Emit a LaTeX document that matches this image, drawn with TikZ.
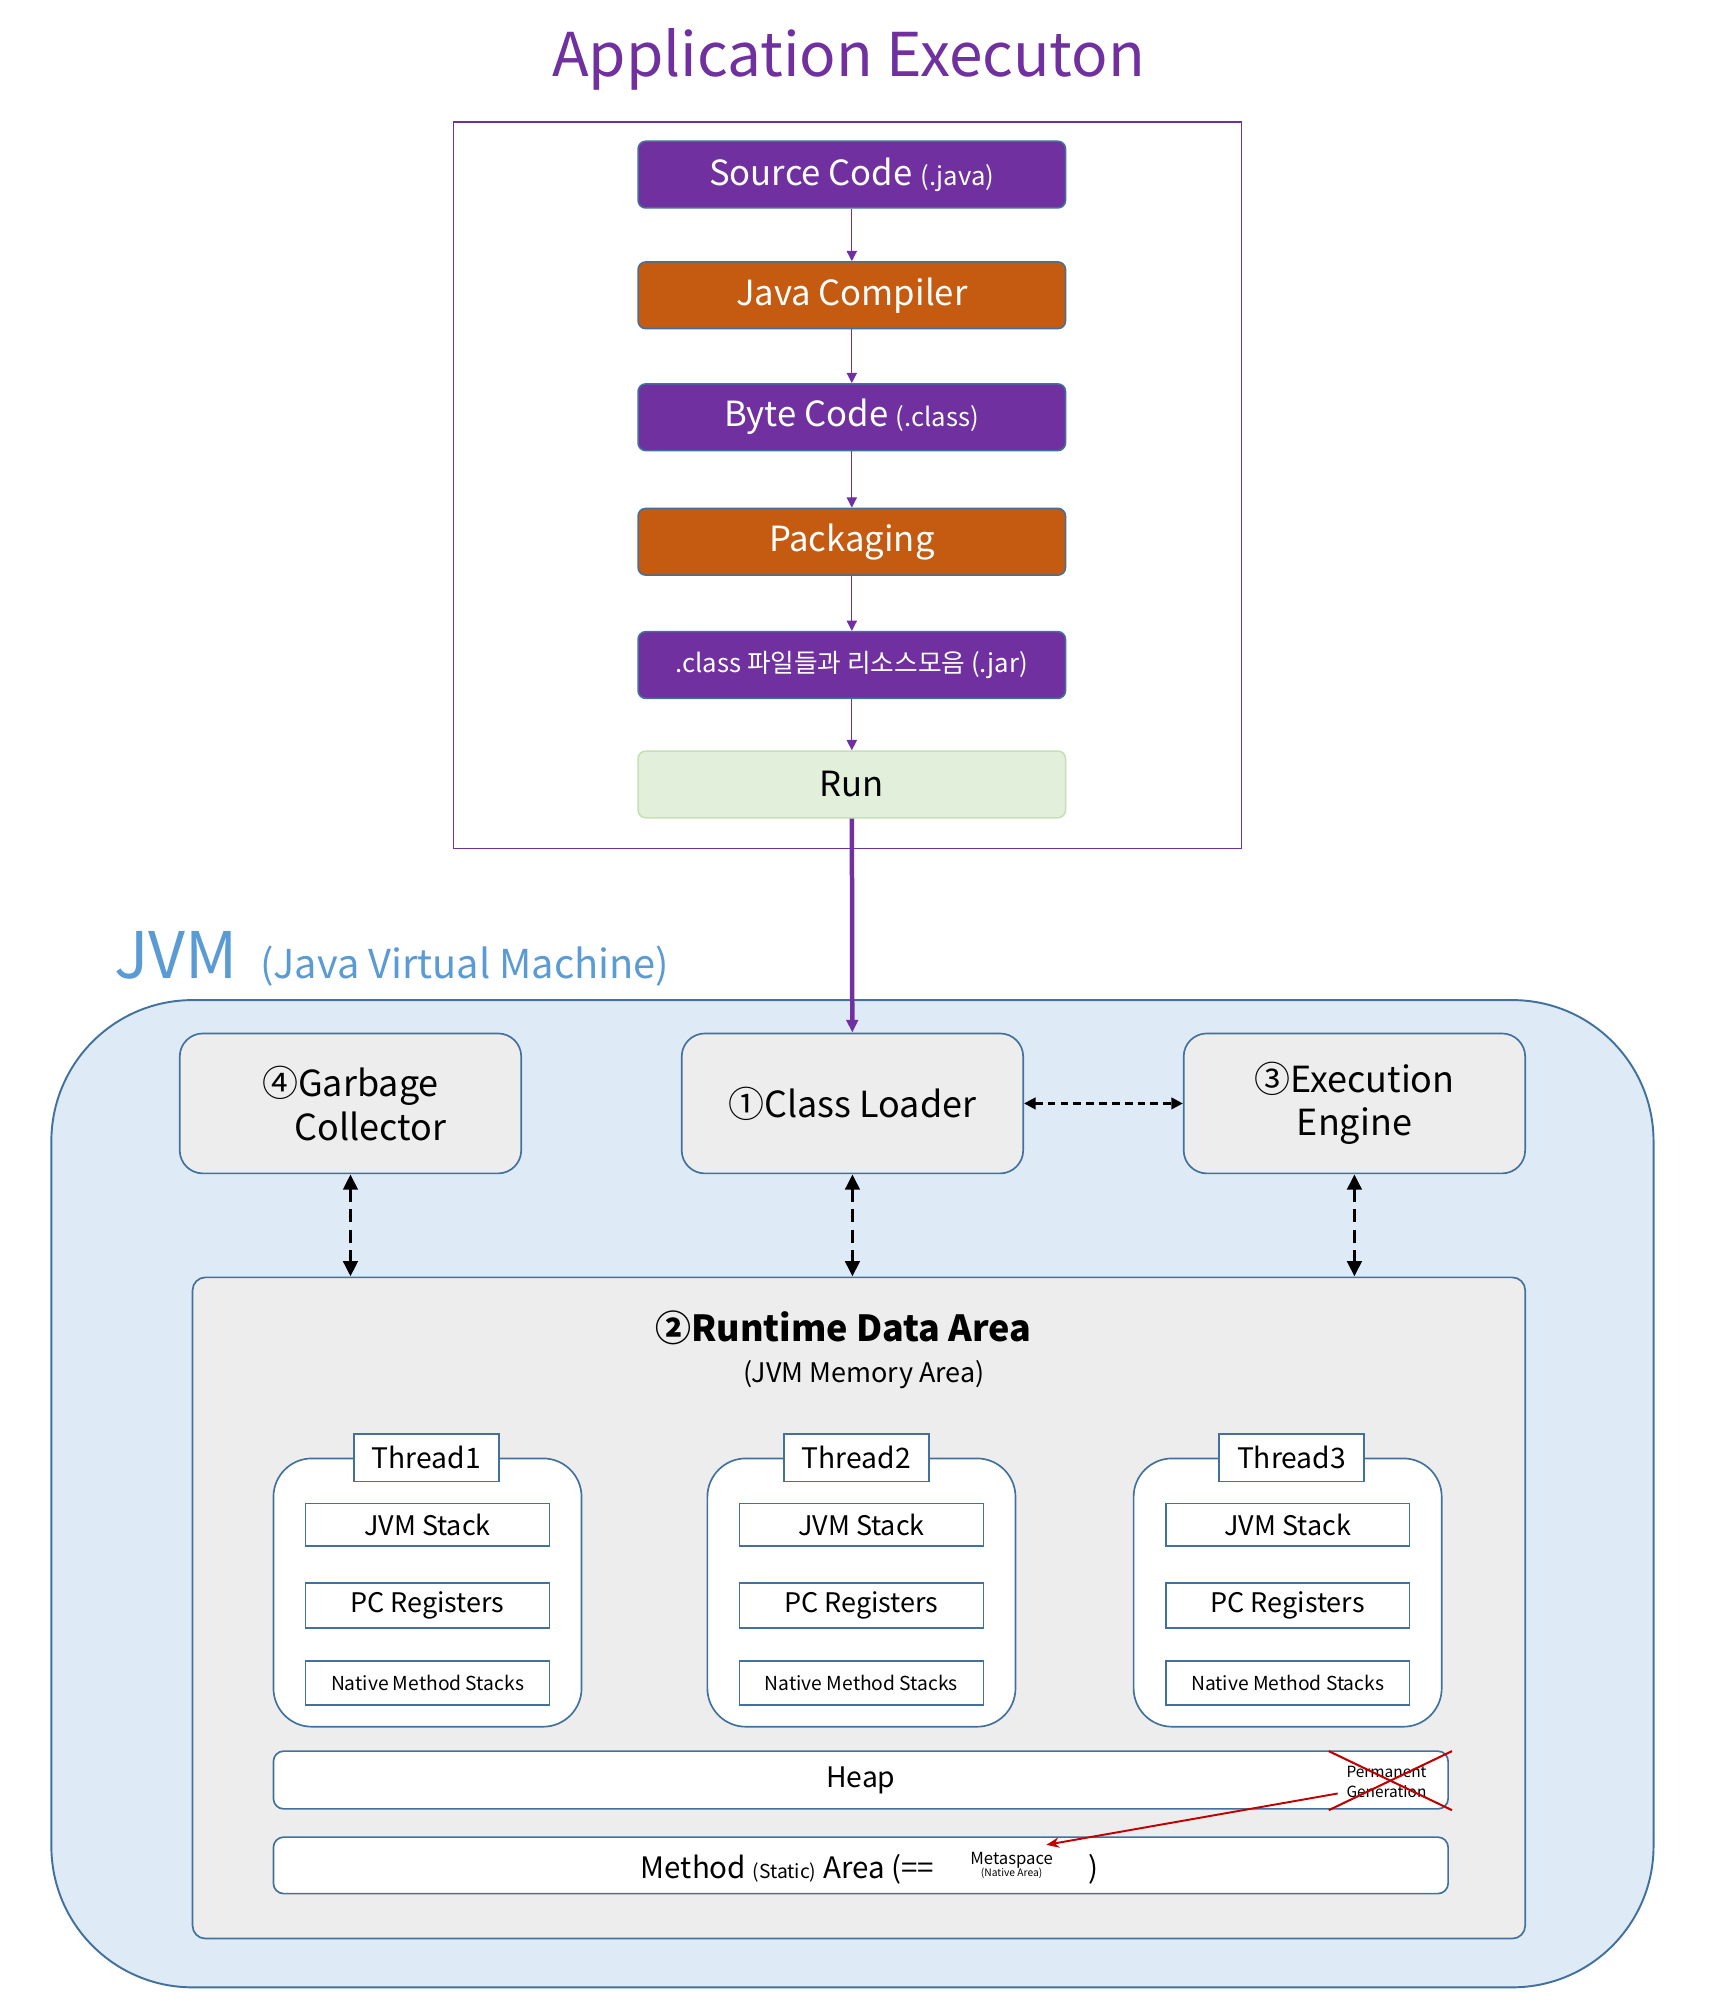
\documentclass[tikz,border=0pt]{standalone}
\usepackage{fontspec}
\setmainfont{Noto Sans CJK KR}
\usetikzlibrary{arrows.meta,positioning}
\definecolor{pu}{HTML}{7030A0}
\definecolor{or}{HTML}{C55A11}
\definecolor{bl}{HTML}{41719C}
\definecolor{gn}{HTML}{E2EFDA}
\definecolor{gl}{HTML}{C5E0B4}
\definecolor{sk}{HTML}{DEEBF7}
\definecolor{jv}{HTML}{5B9BD5}
\definecolor{gy}{HTML}{EDEDED}
\definecolor{rd}{HTML}{C00000}

\tikzset{
  stepbox/.style={draw=bl, line width=1.2pt, rounded corners=6pt, minimum width=333pt,
    minimum height=52pt, inner sep=0pt, text=white, font=\fontsize{27}{32}\selectfont},
  flow/.style={draw=pu, line width=1pt, -{Triangle[length=8pt,width=8pt]}},
  unitbox/.style={draw=bl, fill=gy, line width=1.3pt, rounded corners=18pt, minimum width=266pt,
    minimum height=109pt, inner sep=0pt, align=center, font=\fontsize{28}{34}\selectfont},
  link/.style={black, line width=3pt, dash pattern=on 10pt off 6pt,
    {Triangle[length=12pt,width=11pt]}-{Triangle[length=12pt,width=11pt]}},
  threadbox/.style={draw=bl, fill=white, line width=1.3pt, rounded corners=30pt,
    minimum width=240pt, minimum height=209pt, inner sep=0pt},
  cellbox/.style={draw=bl, fill=white, line width=1.3pt, minimum width=190pt, inner sep=0pt,
    font=\fontsize{21}{25}\selectfont},
  membox/.style={draw=bl, fill=white, line width=1.3pt, rounded corners=8pt, minimum width=915pt,
    inner sep=0pt, font=\fontsize{22}{26}\selectfont},
}

\begin{document}
\begin{tikzpicture}[x=1pt,y=-1pt]

  % Canvas
  \useasboundingbox (0,0) rectangle (1335,1568);
  \fill[white] (0,0) rectangle (1335,1568);

  % Application Execution
  \node[text=pu, font=\fontsize{47}{56}\selectfont] (apptitle) at (661,46) {Application Executon};
  \node[draw=pu, line width=1pt, minimum width=614pt, minimum height=566pt, inner sep=0pt] (app) at (660,378) {};

  \node[stepbox, fill=pu] (source) at (663.5,136) {Source Code {\fontsize{20}{24}\selectfont(.java)}};
  \node[stepbox, fill=or] (compiler) at (663.5,230) {Java Compiler};
  \node[stepbox, fill=pu] (byte) at (663.5,325) {Byte Code {\fontsize{20}{24}\selectfont(.class)}};
  \node[stepbox, fill=or] (pack) at (663.5,422) {Packaging};
  \node[stepbox, fill=pu, font=\fontsize{20}{24}\selectfont] (jar) at (663.5,518) {.class 파일들과 리소스모음  (.jar)};
  \node[stepbox, fill=gn, draw=gl, text=black] (run) at (663.5,611) {Run};

  \draw[flow] (source) -- (compiler);
  \draw[flow] (compiler) -- (byte);
  \draw[flow] (byte) -- (pack);
  \draw[flow] (pack) -- (jar);
  \draw[flow] (jar) -- (run);

  % JVM
  \node[text=jv, anchor=base west, inner sep=0pt, font=\fontsize{50}{60}\selectfont] (jvmtitle) at (89,762) {JVM};
  \node[text=jv, anchor=base west, inner sep=0pt, font=\fontsize{31}{37}\selectfont] (jvmsub) at (203,762) {(Java Virtual Machine)};
  \node[draw=bl, fill=sk, line width=1.5pt, rounded corners=110pt, minimum width=1248pt, minimum height=769pt, inner sep=0pt] (jvm) at (664,1163.5) {};

  \node[unitbox] (gc) at (273,859.5) {④Garbage\\\hspace*{1.1em}Collector};
  \node[unitbox] (loader) at (664,859.5) {①Class Loader};
  \node[unitbox] (engine) at (1055,859.5) {③Execution\\Engine};

  % Runtime Data Area
  \node[draw=bl, fill=gy, line width=1.3pt, rounded corners=10pt, minimum width=1038pt, minimum height=515pt, inner sep=0pt] (rda) at (669,1252.5) {};
  \node[font=\bfseries\fontsize{28}{34}\selectfont] (rdatitle) at (657,1034) {②Runtime Data Area};
  \node[font=\fontsize{21}{26}\selectfont] (rdasub) at (673,1071) {(JVM Memory Area)};

  % Threads
  \foreach \i/\x/\lx in {1/333/332, 2/671/667, 3/1003/1006} {
    \node[threadbox] (thread\i) at (\x,1240.5) {};
    \node[draw=bl, fill=white, line width=1.3pt, minimum height=37pt, inner xsep=14pt, inner ysep=0pt,
      font=\fontsize{22}{26}\selectfont] (tlabel\i) at (\lx,1135.5) {Thread\i};
    \node[cellbox, minimum height=33pt] (stack\i) at (\x,1187.5) {JVM Stack};
    \node[cellbox, minimum height=35pt] (pc\i) at (\x,1250.5) {PC Registers};
    \node[cellbox, minimum height=34pt, font=\fontsize{15}{18}\selectfont] (native\i) at (\x,1311) {Native Method Stacks};
  }

  % Heap and Method Area
  \node[membox, minimum height=45pt] (heap) at (670.5,1386.5) {Heap};
  \node[membox, minimum height=44pt] (method) at (670.5,1453) {};
  \node[anchor=base west, inner sep=0pt, font=\fontsize{23}{27}\selectfont] (methodtxt) at (499,1463)
    {Method {\fontsize{15}{18}\selectfont(Static)} Area (==};
  \node[align=center, inner sep=0pt] (meta) at (788,1453)
    {{\fontsize{13}{15}\selectfont Metaspace}\\[-3pt]{\fontsize{8}{10}\selectfont(Native Area)}};
  \node[anchor=base, inner sep=0pt, font=\fontsize{23}{27}\selectfont] (close) at (852,1463) {)};

  \node[align=center, inner sep=0pt, font=\fontsize{12}{15}\selectfont] (perm) at (1080,1388) {Permanent\\Generation};
  \coordinate (xa) at (1035,1364);
  \coordinate (xb) at (1131,1410);
  \coordinate (xc) at (1035,1410);
  \coordinate (xd) at (1131,1364);
  \draw[rd, line width=1.6pt] (xa) -- (xb);
  \draw[rd, line width=1.6pt] (xc) -- (xd);
  \coordinate (permtail) at (1042,1397);
  \coordinate (metatip) at (815,1437);
  \draw[rd, line width=1.5pt, -{Stealth[length=10pt,width=8pt]}] (permtail) -- (metatip);

  % Connections
  \draw[draw=pu, line width=3.5pt, -{Triangle[length=10pt,width=9pt]}] (run) -- (loader);
  \draw[black, line width=2pt, dash pattern=on 6pt off 4pt,
    {Triangle[length=9pt,width=9pt]}-{Triangle[length=9pt,width=9pt]}] (loader) -- (engine);
  \draw[link] (gc.south) -- (gc.south |- rda.north);
  \draw[link] (loader.south) -- (loader.south |- rda.north);
  \draw[link] (engine.south) -- (engine.south |- rda.north);
\end{tikzpicture}
\end{document}
